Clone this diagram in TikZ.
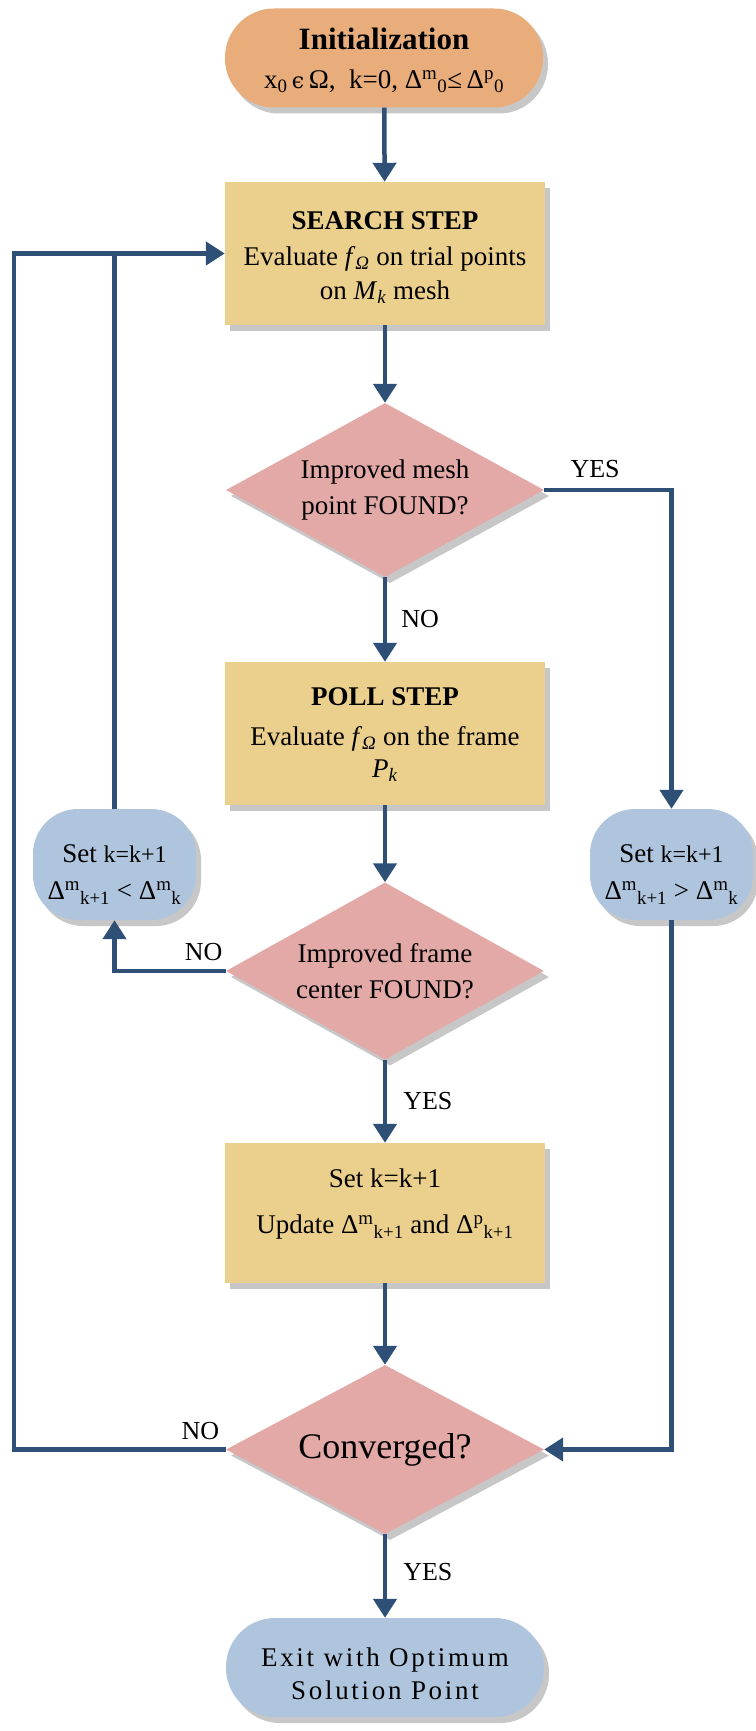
\documentclass[tikz,border=0pt]{standalone}
\usepackage{fontspec}
\setmainfont{Liberation Serif}
\newfontfamily\symfont{DejaVu Serif}
\usetikzlibrary{shapes.geometric,shadows,arrows.meta}

\definecolor{initfill}{HTML}{E8AD7B}
\definecolor{stepfill}{HTML}{EBD08D}
\definecolor{decfill}{HTML}{E3A9A7}
\definecolor{pillfill}{HTML}{AFC5DD}
\definecolor{linkcol}{HTML}{2E5077}

\tikzset{
  txt/.style={font=\fontsize{27}{36}\selectfont, align=center, inner sep=0pt},
  base/.style={inner sep=0pt,
    drop shadow={shadow xshift=5pt, shadow yshift=-6pt, fill=black, opacity=0.22}},
  stepbox/.style={base, rectangle, fill=stepfill, minimum width=320pt, minimum height=143pt},
  decision/.style={base, diamond, fill=decfill, minimum width=318pt, minimum height=174pt},
  terminal/.style={base, rectangle, rounded corners=49pt, minimum width=318pt, minimum height=99pt},
  setpill/.style={base, rectangle, rounded corners=45pt, fill=pillfill, minimum width=163pt, minimum height=111pt},
  link/.style={draw=linkcol, line width=4.5pt, -{Triangle[width=23pt,length=19pt]}},
  plain/.style={draw=linkcol, line width=4.5pt},
  lbl/.style={font=\fontsize{26}{30}\selectfont, inner sep=0pt}
}

\newcommand{\fom}{\textit{f}\textsubscript{\textit{Ω}}}
\newcommand{\dlt}[2]{Δ\textsuperscript{#1}\textsubscript{#2}}

\begin{document}
\begin{tikzpicture}[x=1pt, y=-1pt]
  \useasboundingbox (0,0) rectangle (755,1731);

  % start
  \node[terminal, fill=initfill, label={[txt, yshift=-2pt]center:
     {\fontsize{31}{34}\selectfont\bfseries Initialization}\\[3pt]
     x\textsubscript{0}\,{\symfont\fontsize{22}{26}\selectfont ϵ}\,Ω,\ \ k=0, \dlt{m}{0}≤\,\dlt{p}{0}}]
    (init) at (384,58) {};

  % main column
  \node[stepbox, label={[txt, yshift=-4pt]center:
     {\bfseries SEARCH STEP}\\[0pt]
     Evaluate \fom{} on trial points\\[-2pt]
     on \textit{M}\textsubscript{\textit{k}} mesh}]
    (search) at (385,253.5) {};

  \node[decision, label={[txt]center:Improved mesh\\point FOUND?}]
    (found1) at (385,490) {};

  \node[stepbox, label={[txt, yshift=-1pt]center:
     {\bfseries POLL STEP}\\[4pt]
     Evaluate \fom{} on the frame\\[-4pt]
     \textit{P}\textsubscript{\textit{k}}}]
    (poll) at (385,733.5) {};

  \node[decision, minimum height=177pt, label={[txt]center:Improved frame\\center FOUND?}]
    (found2) at (385,971) {};

  \node[stepbox, minimum height=140pt, label={[txt, yshift=9pt]center:
     Set k=k+1\\[10pt]
     Update \dlt{m}{k+1} and \dlt{p}{k+1}}]
    (update) at (385,1213) {};

  \node[decision, minimum height=169pt, label={[txt, font=\fontsize{36}{40}\selectfont]center:Converged?}]
    (conv) at (385,1449.5) {};

  \node[terminal, fill=pillfill, label={[txt, yshift=-6pt,
      font=\fontsize{27}{36}\selectfont\addfontfeature{LetterSpace=10}]center:
      Exit with Optimum\\[-3pt]Solution Point}]
    (exit) at (385,1667.5) {};

  % mesh size updates
  \node[setpill, label={[txt, yshift=-10pt]center:
      Set {\fontsize{24}{28}\selectfont k=k+1}\\[1pt]\dlt{m}{k+1} < \dlt{m}{k}}]
    (shrink) at (114.5,864.5) {};
  \node[setpill, label={[txt, yshift=-10pt]center:
      Set {\fontsize{24}{28}\selectfont k=k+1}\\[1pt]\dlt{m}{k+1} > \dlt{m}{k}}]
    (grow) at (671.5,864.5) {};

  % routing points
  \coordinate (loopL) at (14,253.5);
  \coordinate (joinL) at (114.5,253.5);

  % connectors
  \draw[link] (init) -- (search);
  \draw[link] (search) -- (found1);
  \draw[link] (found1) -- node[lbl, right=14pt, pos=0.5] {NO} (poll);
  \draw[link] (poll) -- (found2);
  \draw[link] (found2) -- node[lbl, right=16pt, pos=0.5] {YES} (update);
  \draw[link] (update) -- (conv);
  \draw[link] (conv) -- node[lbl, right=16pt, pos=0.45] {YES} (exit);

  \draw[link] (found1.east) -| node[lbl, pos=0.2, above=10pt] {YES} (grow.north);
  \draw[link] (found2.west) -| node[lbl, pos=0.1, above=8pt] {NO} (shrink.south);
  \draw[link] (grow.south) |- (conv.east);
  \draw[link] (conv.west) -| node[lbl, pos=0.06, above=8pt] {NO} (loopL) -- (search.west);
  \draw[plain] (shrink.north) -- (joinL);
\end{tikzpicture}
\end{document}
